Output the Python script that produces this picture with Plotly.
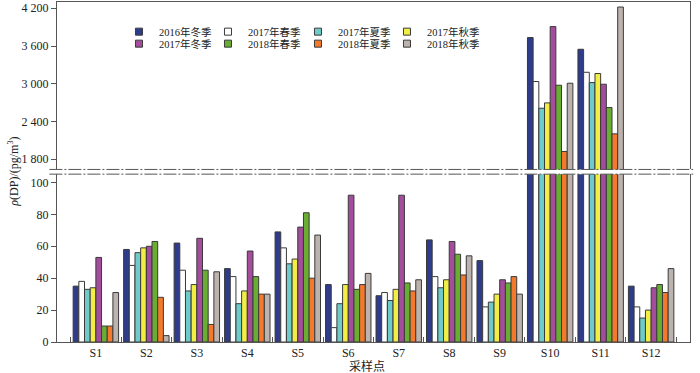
import plotly.graph_objects as go

sites = ["S1", "S2", "S3", "S4", "S5", "S6", "S7", "S8", "S9", "S10", "S11", "S12"]

series_names = ["2016年冬季", "2017年春季", "2017年夏季", "2017年秋季",
                "2017年冬季", "2018年春季", "2018年夏季", "2018年秋季"]

winter_2016 = [35, 58, 62, 46, 69, 36, 29, 64, 51, 3734, 3548, 35]
spring_2017 = [38, 48, 45, 41, 59, 9, 31, 41, 22, 3035, 3182, 22]
summer_2017 = [33, 56, 32, 24, 49, 24, 26, 34, 25, 2610, 3018, 15]
autumn_2017 = [34, 59, 36, 32, 52, 36, 33, 39, 30, 2695, 3162, 20]
winter_2017 = [53, 60, 65, 57, 72, 92, 92, 63, 39, 3909, 2992, 34]
spring_2018 = [10, 63, 45, 41, 81, 33, 37, 55, 37, 2976, 2621, 36]
summer_2018 = [10, 28, 11, 30, 40, 36, 32, 42, 41, 1922, 2202, 31]
autumn_2018 = [31, 4, 44, 30, 67, 43, 39, 54, 30, 3008, 4220, 46]

series_values = [winter_2016, spring_2017, summer_2017, autumn_2017,
                 winter_2017, spring_2018, summer_2018, autumn_2018]

colors = ["#2F3C8C", "#FFFFFF", "#6FCACA", "#F2EE45",
          "#A34D9C", "#69AD33", "#F37A2C", "#BDB3AE"]

upper_ticks = [1800, 2400, 3000, 3600, 4200]
upper_ticktext = ["1 800", "2 400", "3 000", "3 600", "4 200"]
lower_ticks = [0, 20, 40, 60, 80, 100]
lower_ticktext = ["0", "20", "40", "60", "80", "100"]

FONT = "Liberation Serif, Times New Roman, Noto Sans CJK SC, serif"
LINE = "#555555"
OUTLINE = "#3a3a3a"

fig = go.Figure()

# bars: lower (x, y) and upper (x2, y2) panels
for name, vals, col in zip(series_names, series_values, colors):
    for xa, ya in (("x", "y"), ("x2", "y2")):
        fig.add_trace(go.Bar(
            x=sites, y=vals, name=name, xaxis=xa, yaxis=ya,
            marker=dict(color=col, line=dict(color=OUTLINE, width=1)),
            showlegend=False,
        ))

# legend: one small legend box per entry, laid out 4 columns x 2 rows
legend_ids = ["legend", "legend2", "legend3", "legend4",
              "legend5", "legend6", "legend7", "legend8"]
for name, col, lid in zip(series_names, colors, legend_ids):
    fig.add_trace(go.Scatter(
        x=[None], y=[None], mode="markers", name=name,
        marker=dict(symbol="square", size=7, color=col,
                    line=dict(color=OUTLINE, width=1)),
        legend=lid, showlegend=True,
    ))

lower_top = 0.4937
upper_bot = 0.5075

col_x = [0.0979, 0.2385, 0.3807, 0.5213]
row_y = [0.9128, 0.8775]

legend_layout = {}
for i, lid in enumerate(legend_ids):
    legend_layout[lid] = dict(
        x=col_x[i % 4], y=row_y[i // 4], xanchor="left", yanchor="middle",
        orientation="h", font=dict(family=FONT, size=10.5),
        bgcolor="rgba(0,0,0,0)", borderwidth=0, itemwidth=30,
    )

fig.update_layout(
    width=700, height=373,
    margin=dict(l=57, r=10, t=2, b=31),
    paper_bgcolor="white", plot_bgcolor="white",
    font=dict(family=FONT, size=12, color="#222222"),
    barmode="group", bargap=0.1, bargroupgap=0,
    xaxis=dict(
        domain=[0, 1], anchor="y", type="category",
        range=[-0.77, 11.77],
        showline=True, linecolor=LINE, linewidth=1, mirror=False,
        ticks="inside", tickson="boundaries", ticklen=5, tickcolor=LINE,
        showgrid=False, zeroline=False,
        tickfont=dict(family=FONT, size=12),
    ),
    xaxis2=dict(
        domain=[0, 1], anchor="y2", type="category", matches="x",
        side="top", showline=True, linecolor=LINE, linewidth=1,
        showticklabels=False, ticks="", showgrid=False, zeroline=False,
    ),
    yaxis=dict(
        domain=[0, lower_top], anchor="x", range=[0, 105.2],
        tickvals=lower_ticks, ticktext=lower_ticktext,
        ticks="outside", ticklen=5, tickcolor=LINE,
        showline=True, linecolor=LINE, linewidth=1, mirror=True,
        showgrid=False, zeroline=False,
        tickfont=dict(family=FONT, size=12),
    ),
    yaxis2=dict(
        domain=[upper_bot, 1], anchor="x2", range=[1636, 4300],
        tickvals=upper_ticks, ticktext=upper_ticktext,
        ticks="outside", ticklen=5, tickcolor=LINE,
        showline=True, linecolor=LINE, linewidth=1, mirror=True,
        showgrid=False, zeroline=False,
        tickfont=dict(family=FONT, size=12),
    ),
    showlegend=True,
    **legend_layout,
)

# axis-break dash-dot lines
for yv in (upper_bot, lower_top):
    fig.add_shape(type="line", xref="paper", yref="paper",
                  x0=-0.012, x1=1.005, y0=yv, y1=yv,
                  line=dict(color=LINE, width=1, dash="13px,2px,2px,2px"))

fig.add_annotation(
    text="<i>ρ</i>(DP)/(pg/m<sup>3</sup>)", textangle=-90,
    xref="paper", yref="paper", x=-0.07, y=0.5,
    xanchor="center", yanchor="middle", showarrow=False,
    font=dict(family=FONT, size=12),
)
fig.add_annotation(
    text="采样点", xref="paper", yref="paper", x=0.49, y=-0.072,
    xanchor="center", yanchor="middle", showarrow=False,
    font=dict(family=FONT, size=12),
)

fig.write_html(
    "out.html",
    config={"displayModeBar": False},
    post_script="document.body.style.margin='0';document.body.style.overflow='hidden';",
)
